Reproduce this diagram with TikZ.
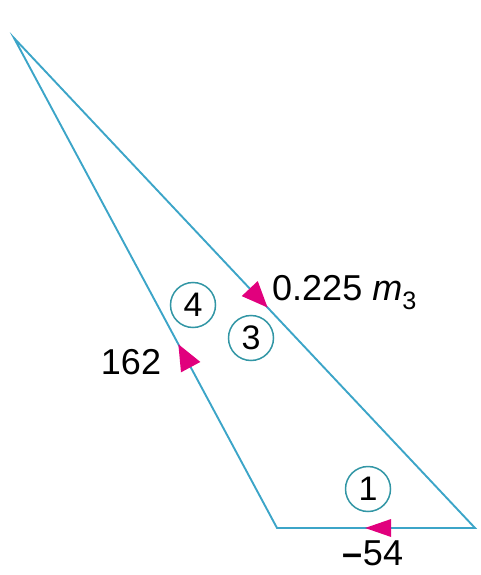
\documentclass[tikz,border=0pt]{standalone}
\usepackage{fontspec}
\setmainfont{Liberation Sans}
\usetikzlibrary{calc}
\definecolor{linec}{RGB}{60,165,200}
\definecolor{circc}{RGB}{50,150,165}
\definecolor{mag}{RGB}{225,0,125}
\begin{document}
\begin{tikzpicture}[x=1pt,y=-1pt,
  edge/.style={draw=linec,line width=1.9pt,line join=miter},
  num/.style={circle,draw=circc,line width=1.5pt,minimum size=45pt,inner sep=0pt,font=\fontsize{34}{36}\selectfont},
  lab/.style={inner sep=0pt,font=\fontsize{36}{38}\selectfont},
  tip/.style={fill=mag}]
\useasboundingbox (0,0) rectangle (481,575);
\coordinate (A) at (14,38);
\coordinate (BL) at (277,528);
\coordinate (BR) at (475,528);
\draw[edge] (A) -- (BL) -- (BR) -- cycle;
% arrow tips
\coordinate (t1) at ($(BR)!0.555!(BL)$);
\coordinate (b1) at ($(t1)!26pt!(BR)$);
\fill[tip] (t1) -- ($(b1)!9pt!90:(t1)$) -- ($(b1)!9pt!-90:(t1)$) -- cycle;
\coordinate (t2) at ($(BL)!0.375!(A)$);
\coordinate (b2) at ($(t2)!26pt!(BL)$);
\fill[tip] (t2) -- ($(b2)!11pt!90:(t2)$) -- ($(b2)!11pt!-90:(t2)$) -- cycle;
\coordinate (t3) at ($(A)!0.55!(BR)$);
\coordinate (b3) at ($(t3)!26pt!(A)$);
\fill[tip] (t3) -- ($(b3)!11pt!90:(t3)$) -- ($(b3)!11pt!-90:(t3)$) -- cycle;
% circled numbers
\node[num] (n4) at (193,305) {4};
\node[num] (n3) at (251,338) {3};
\node[num] (n1) at (368,489) {1};
% labels
\node[lab] (l162) at (131,362) {162};
\node[lab,anchor=base west] (l225) at (272,300) {0.225 \textit{m}\textsubscript{3}};
\node[lab,anchor=base] (l54) at (373,565) {\textbf{–}54};
\end{tikzpicture}
\end{document}
